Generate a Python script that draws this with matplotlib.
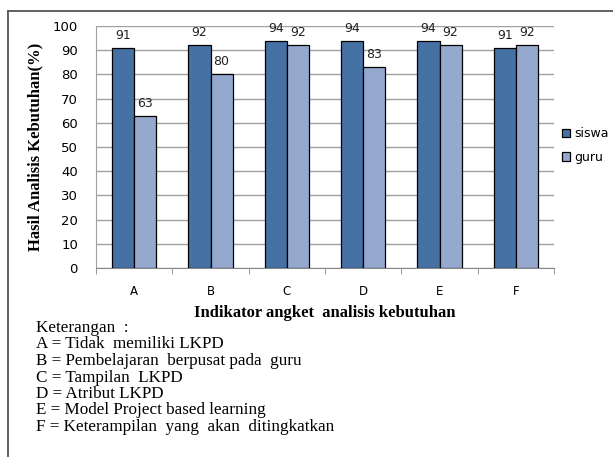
import numpy as np
import matplotlib.pyplot as plt
from matplotlib.lines import Line2D

kategori = ["A", "B", "C", "D", "E", "F"]
siswa = [91, 92, 94, 94, 94, 91]
guru = [63, 80, 92, 83, 92, 92]
keterangan = [
    "Keterangan  :",
    "A = Tidak  memiliki LKPD",
    "B = Pembelajaran  berpusat pada  guru",
    "C = Tampilan  LKPD",
    "D = Atribut LKPD",
    "E = Model Project based learning",
    "F = Keterampilan  yang  akan  ditingkatkan",
]

c_siswa = "#4671a5"
c_guru = "#95a9cf"
sans = "DejaVu Sans"
serif = "Liberation Serif"

fig = plt.figure(figsize=(6.13, 4.57), dpi=100)
ax = fig.add_axes([0.1566, 0.4136, 0.7472, 0.5294])

x = np.arange(len(kategori))
w = 0.29
b1 = ax.bar(x - w / 2, siswa, w, color=c_siswa, edgecolor="black", linewidth=0.9, label="siswa", zorder=3)
b2 = ax.bar(x + w / 2, guru, w, color=c_guru, edgecolor="black", linewidth=0.9, label="guru", zorder=3)
for bars, vals in ((b1, siswa), (b2, guru)):
    for r, v in zip(bars, vals):
        ax.text(r.get_x() + r.get_width() / 2, v + 2.5, str(v), ha="center", va="bottom",
                fontsize=9, family=sans, color="#222222")

ax.set_xlim(-0.5, len(kategori) - 0.5)
ax.set_ylim(0, 100)
ax.set_yticks(range(0, 101, 10))
ax.set_yticklabels([str(v) for v in range(0, 101, 10)], fontsize=9.5, family=sans)
ax.set_xticks(x)
ax.set_xticklabels(kategori, fontsize=8.5, family=sans)
ax.set_xticks(np.arange(-0.5, len(kategori), 1), minor=True)
ax.tick_params(axis="x", which="major", length=0, pad=12)
ax.tick_params(axis="x", which="minor", length=4, color="#888888", direction="out")
ax.tick_params(axis="y", length=0, pad=13)
ax.grid(axis="y", color="#a0a0a0", linewidth=1, zorder=0)
for s in ["top", "right"]:
    ax.spines[s].set_visible(False)
ax.spines["left"].set_color("#a0a0a0")
ax.spines["bottom"].set_color("#888888")

ax.set_xlabel("Indikator angket  analisis kebutuhan", family=serif, fontweight="bold",
              fontsize=12, labelpad=5)
ax.set_ylabel("Hasil Analisis Kebutuhan(%)", family=serif, fontweight="bold",
              fontsize=12, labelpad=7)

leg = ax.legend(loc="center left", bbox_to_anchor=(1.0, 0.505), frameon=False,
                prop={"family": sans, "size": 9}, handlelength=0.7, handleheight=0.7,
                handletextpad=0.3, labelspacing=0.85, borderaxespad=0.2)

# frame lines
fig.add_artist(Line2D([8 / 613, 8 / 613], [0, 1 - 11 / 457], color="#555555", linewidth=1.3))
fig.add_artist(Line2D([8 / 613, 1], [1 - 11 / 457, 1 - 11 / 457], color="#555555", linewidth=1.3))

for i, t in enumerate(keterangan):
    fig.text(36 / 613, 1 - (328 + i * 16.5) / 457, t, family=serif, fontsize=12.3,
             va="center", ha="left")

fig.savefig("out.png", dpi=100)
